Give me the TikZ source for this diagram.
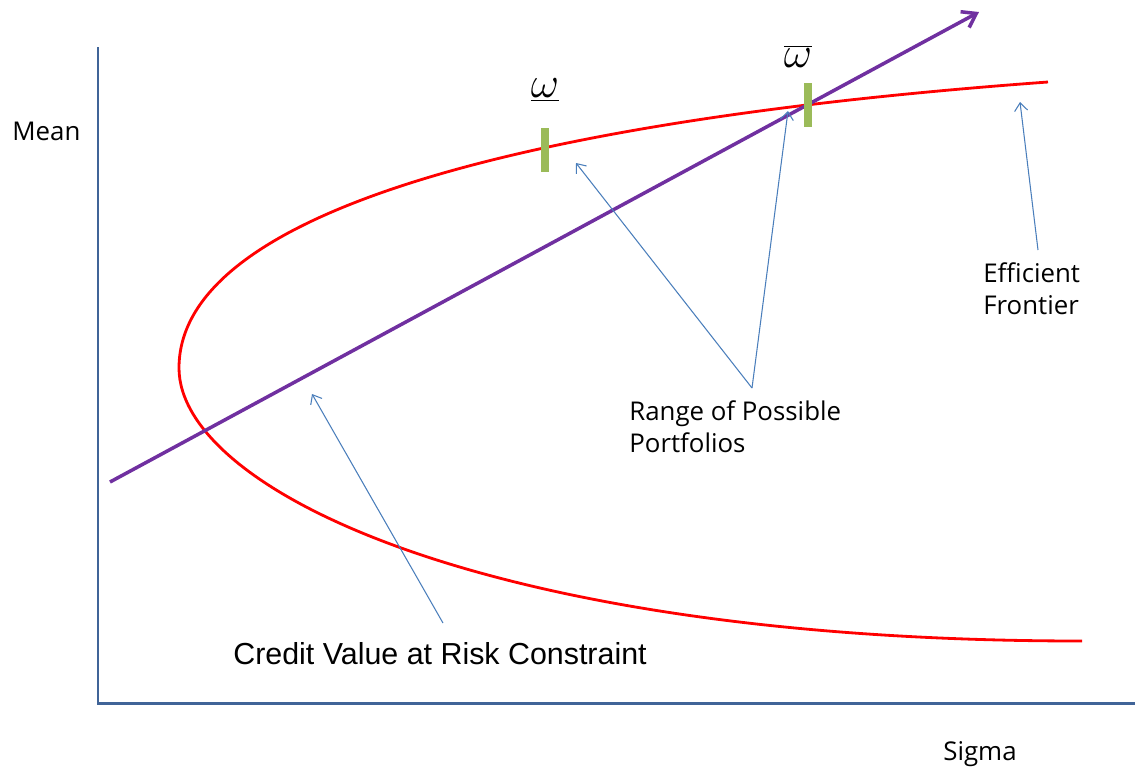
\documentclass[tikz,border=0pt]{standalone}
\usepackage{fontspec}
\setmainfont{Open Sans}
\newfontfamily\arialfont{Liberation Sans}
\usetikzlibrary{arrows.meta,positioning}
\definecolor{axisblue}{RGB}{64,100,152}
\definecolor{pointblue}{RGB}{74,126,187}
\definecolor{linepurple}{RGB}{112,48,160}
\definecolor{bargreen}{RGB}{155,187,89}
\tikzset{
    axis/.style={draw=axisblue, line width=1.7pt},
    frontier/.style={draw=red, line width=1.6pt},
    cvar/.style={draw=linepurple, line width=2pt, -{Straight Barb[length=2.6mm,width=3.6mm]}},
    pointer/.style={draw=pointblue, line width=0.6pt, -{Straight Barb[length=1.6mm,width=2.6mm]}},
    bound/.style={fill=bargreen, draw=none, minimum width=0.16cm, minimum height=0.88cm, inner sep=0pt},
    txt/.style={font=\fontsize{14.7}{18}\selectfont, inner sep=0pt, align=left},
    sym/.style={font=\fontsize{26}{30}\selectfont, inner sep=0pt}
}

\begin{document}
\begin{tikzpicture}[x=0.02cm, y=-0.02cm]
    \useasboundingbox (0,0) rectangle (1135,768);

    % Axes
    \coordinate (O) at (98,703);
    \coordinate (Ytop) at (98,47);
    \coordinate (Xend) at (1135,703);
    \draw[axis] (Ytop) -- (O) -- (Xend);

    % Frontier
    \coordinate (fUp) at (1048,82);
    \coordinate (fNose) at (179,368);
    \coordinate (fLow) at (1082,641);
    \draw[frontier] (fUp) .. controls (500,122) and (179,218) .. (fNose)
        .. controls (179,488) and (482,641) .. (fLow);

    % Constraint line
    \coordinate (cvarA) at (110,482);
    \coordinate (cvarB) at (979,12);
    \draw[cvar] (cvarA) -- (cvarB);

    % Bounds
    \node[bound] (lowbar) at (545,149.5) {};
    \node[bound] (highbar) at (808,105) {};
    \node[sym] (lowsym) at (545,90) {$\underline{\omega}$};
    \node[sym] (highsym) at (798,56) {$\overline{\omega}$};

    % Labels
    \node[txt, anchor=base west] (mean) at (12,140) {Mean};
    \node[txt, anchor=base west] (sigma) at (943,760) {Sigma};
    \node[txt, anchor=base west] (eff) at (983,314) {Efficient\\Frontier};
    \node[txt, anchor=base west] (range) at (629,452) {Range of Possible\\Portfolios};
    \node[txt, anchor=base west, font=\arialfont\fontsize{17.3}{20}\selectfont] (credit) at (233,664) {Credit Value at Risk Constraint};

    % Pointers
    \coordinate (effTail) at (1038,250);
    \coordinate (effTip) at (1020,102);
    \coordinate (rangeApex) at (752,388);
    \coordinate (rangeTipA) at (576,163);
    \coordinate (rangeTipB) at (788,111);
    \coordinate (creditTail) at (443,623);
    \coordinate (creditTip) at (312,394);
    \draw[pointer] (effTail) -- (effTip);
    \draw[pointer] (rangeApex) -- (rangeTipA);
    \draw[pointer] (rangeApex) -- (rangeTipB);
    \draw[pointer] (creditTail) -- (creditTip);
\end{tikzpicture}
\end{document}
